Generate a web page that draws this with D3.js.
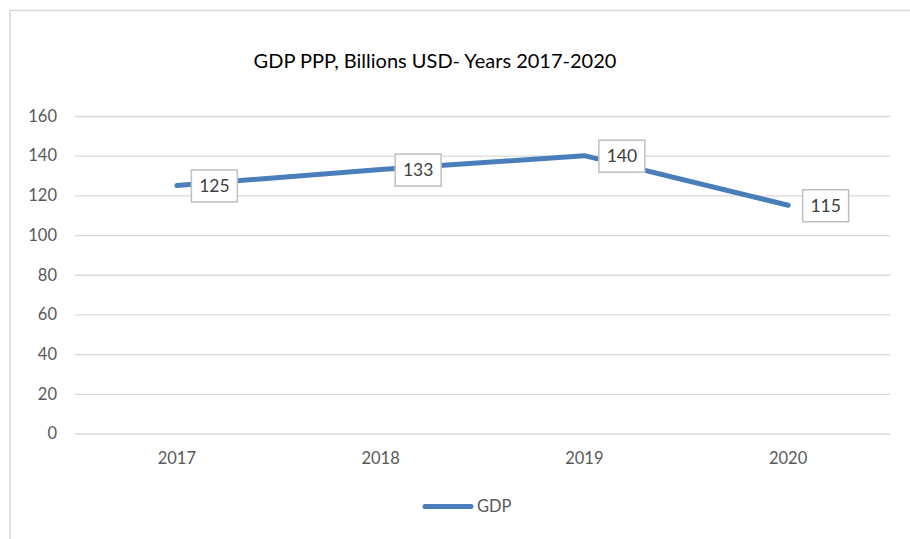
<!DOCTYPE html>
<html>
<head>
<meta charset="utf-8">
<script src="https://cdn.jsdelivr.net/npm/d3@7"></script>
<style>
  html, body { margin: 0; padding: 0; background: #fff; }
  svg { display: block; font-family: Lato, "Open Sans", sans-serif; }
</style>
</head>
<body>
<svg id="chart" width="910" height="539"></svg>
<script>
// GDP (PPP), billions of USD
const years = ["2017", "2018", "2019", "2020"];
const gdp = [125, 133, 140, 115];
const yTicks = [0, 20, 40, 60, 80, 100, 120, 140, 160];
const seriesName = "GDP";
const titleText = "GDP PPP, Billions USD- Years 2017-2020";

const svg = d3.select("#chart");
const lineColor = "#4a7ebb";
const gridColor = "#d9d9d9";
const textColor = "#595959";

// chart frame
svg.append("path")
  .attr("d", "M10,539 V10.5 H910")
  .attr("fill", "none")
  .attr("stroke", gridColor)
  .attr("stroke-width", 1.6);

const plot = { left: 75, right: 890, top: 116, bottom: 433.5 };

const x = d3.scaleBand().domain(years).range([plot.left, plot.right]);
const y = d3.scaleLinear().domain([0, 160]).range([plot.bottom, plot.top]);
const cx = d => x(d) + x.bandwidth() / 2;

// title
svg.append("text")
  .attr("x", 435)
  .attr("y", 67.5)
  .attr("text-anchor", "middle")
  .attr("font-size", 20)
  .attr("fill", "#000")
  .text(titleText);

// horizontal gridlines + y labels
const yAxis = d3.axisLeft(y)
  .tickValues(yTicks)
  .tickSize(-(plot.right - plot.left))
  .tickPadding(18);

const gy = svg.append("g")
  .attr("transform", `translate(${plot.left},0)`)
  .call(yAxis);
gy.select(".domain").remove();
gy.selectAll(".tick line").attr("stroke", gridColor).attr("stroke-width", 1.3);
gy.selectAll(".tick text")
  .attr("fill", textColor)
  .attr("font-size", 16.5)
  .attr("font-family", "Lato, sans-serif");

// x labels
const xAxis = d3.axisBottom(x).tickSize(0).tickPadding(19);
const gx = svg.append("g")
  .attr("transform", `translate(0,${plot.bottom})`)
  .call(xAxis);
gx.select(".domain").remove();
gx.selectAll(".tick text")
  .attr("fill", textColor)
  .attr("font-size", 16.5)
  .attr("font-family", "Lato, sans-serif");

// series line
const data = years.map((yr, i) => ({ year: yr, value: gdp[i] }));
const line = d3.line().x(d => cx(d.year)).y(d => y(d.value));
svg.append("path")
  .datum(data)
  .attr("d", line)
  .attr("fill", "none")
  .attr("stroke", lineColor)
  .attr("stroke-width", 5)
  .attr("stroke-linecap", "round")
  .attr("stroke-linejoin", "round");

// data labels in boxes to the right of each point
const boxW = 46, boxH = 32, boxOffset = 14;
const labels = svg.append("g").selectAll("g")
  .data(data)
  .join("g")
  .attr("transform", d => `translate(${cx(d.year) + boxOffset},${y(d.value) - boxH / 2})`);
labels.append("rect")
  .attr("x", 0.5).attr("y", 0.5)
  .attr("width", boxW).attr("height", boxH)
  .attr("fill", "#fff")
  .attr("stroke", "#bfbfbf")
  .attr("stroke-width", 1.5);
labels.append("text")
  .attr("x", boxW / 2 + 0.5)
  .attr("y", boxH / 2 + 0.5)
  .attr("dy", "0.35em")
  .attr("text-anchor", "middle")
  .attr("font-size", 17.5)
  .attr("fill", "#404040")
  .text(d => d.value);

// legend
const legend = svg.append("g");
legend.append("line")
  .attr("x1", 425).attr("x2", 471)
  .attr("y1", 506.5).attr("y2", 506.5)
  .attr("stroke", lineColor)
  .attr("stroke-width", 5)
  .attr("stroke-linecap", "round");
legend.append("text")
  .attr("x", 477)
  .attr("y", 506.5)
  .attr("dy", "0.35em")
  .attr("font-size", 16.5)
  .attr("fill", textColor)
  .text(seriesName);
</script>
</body>
</html>
